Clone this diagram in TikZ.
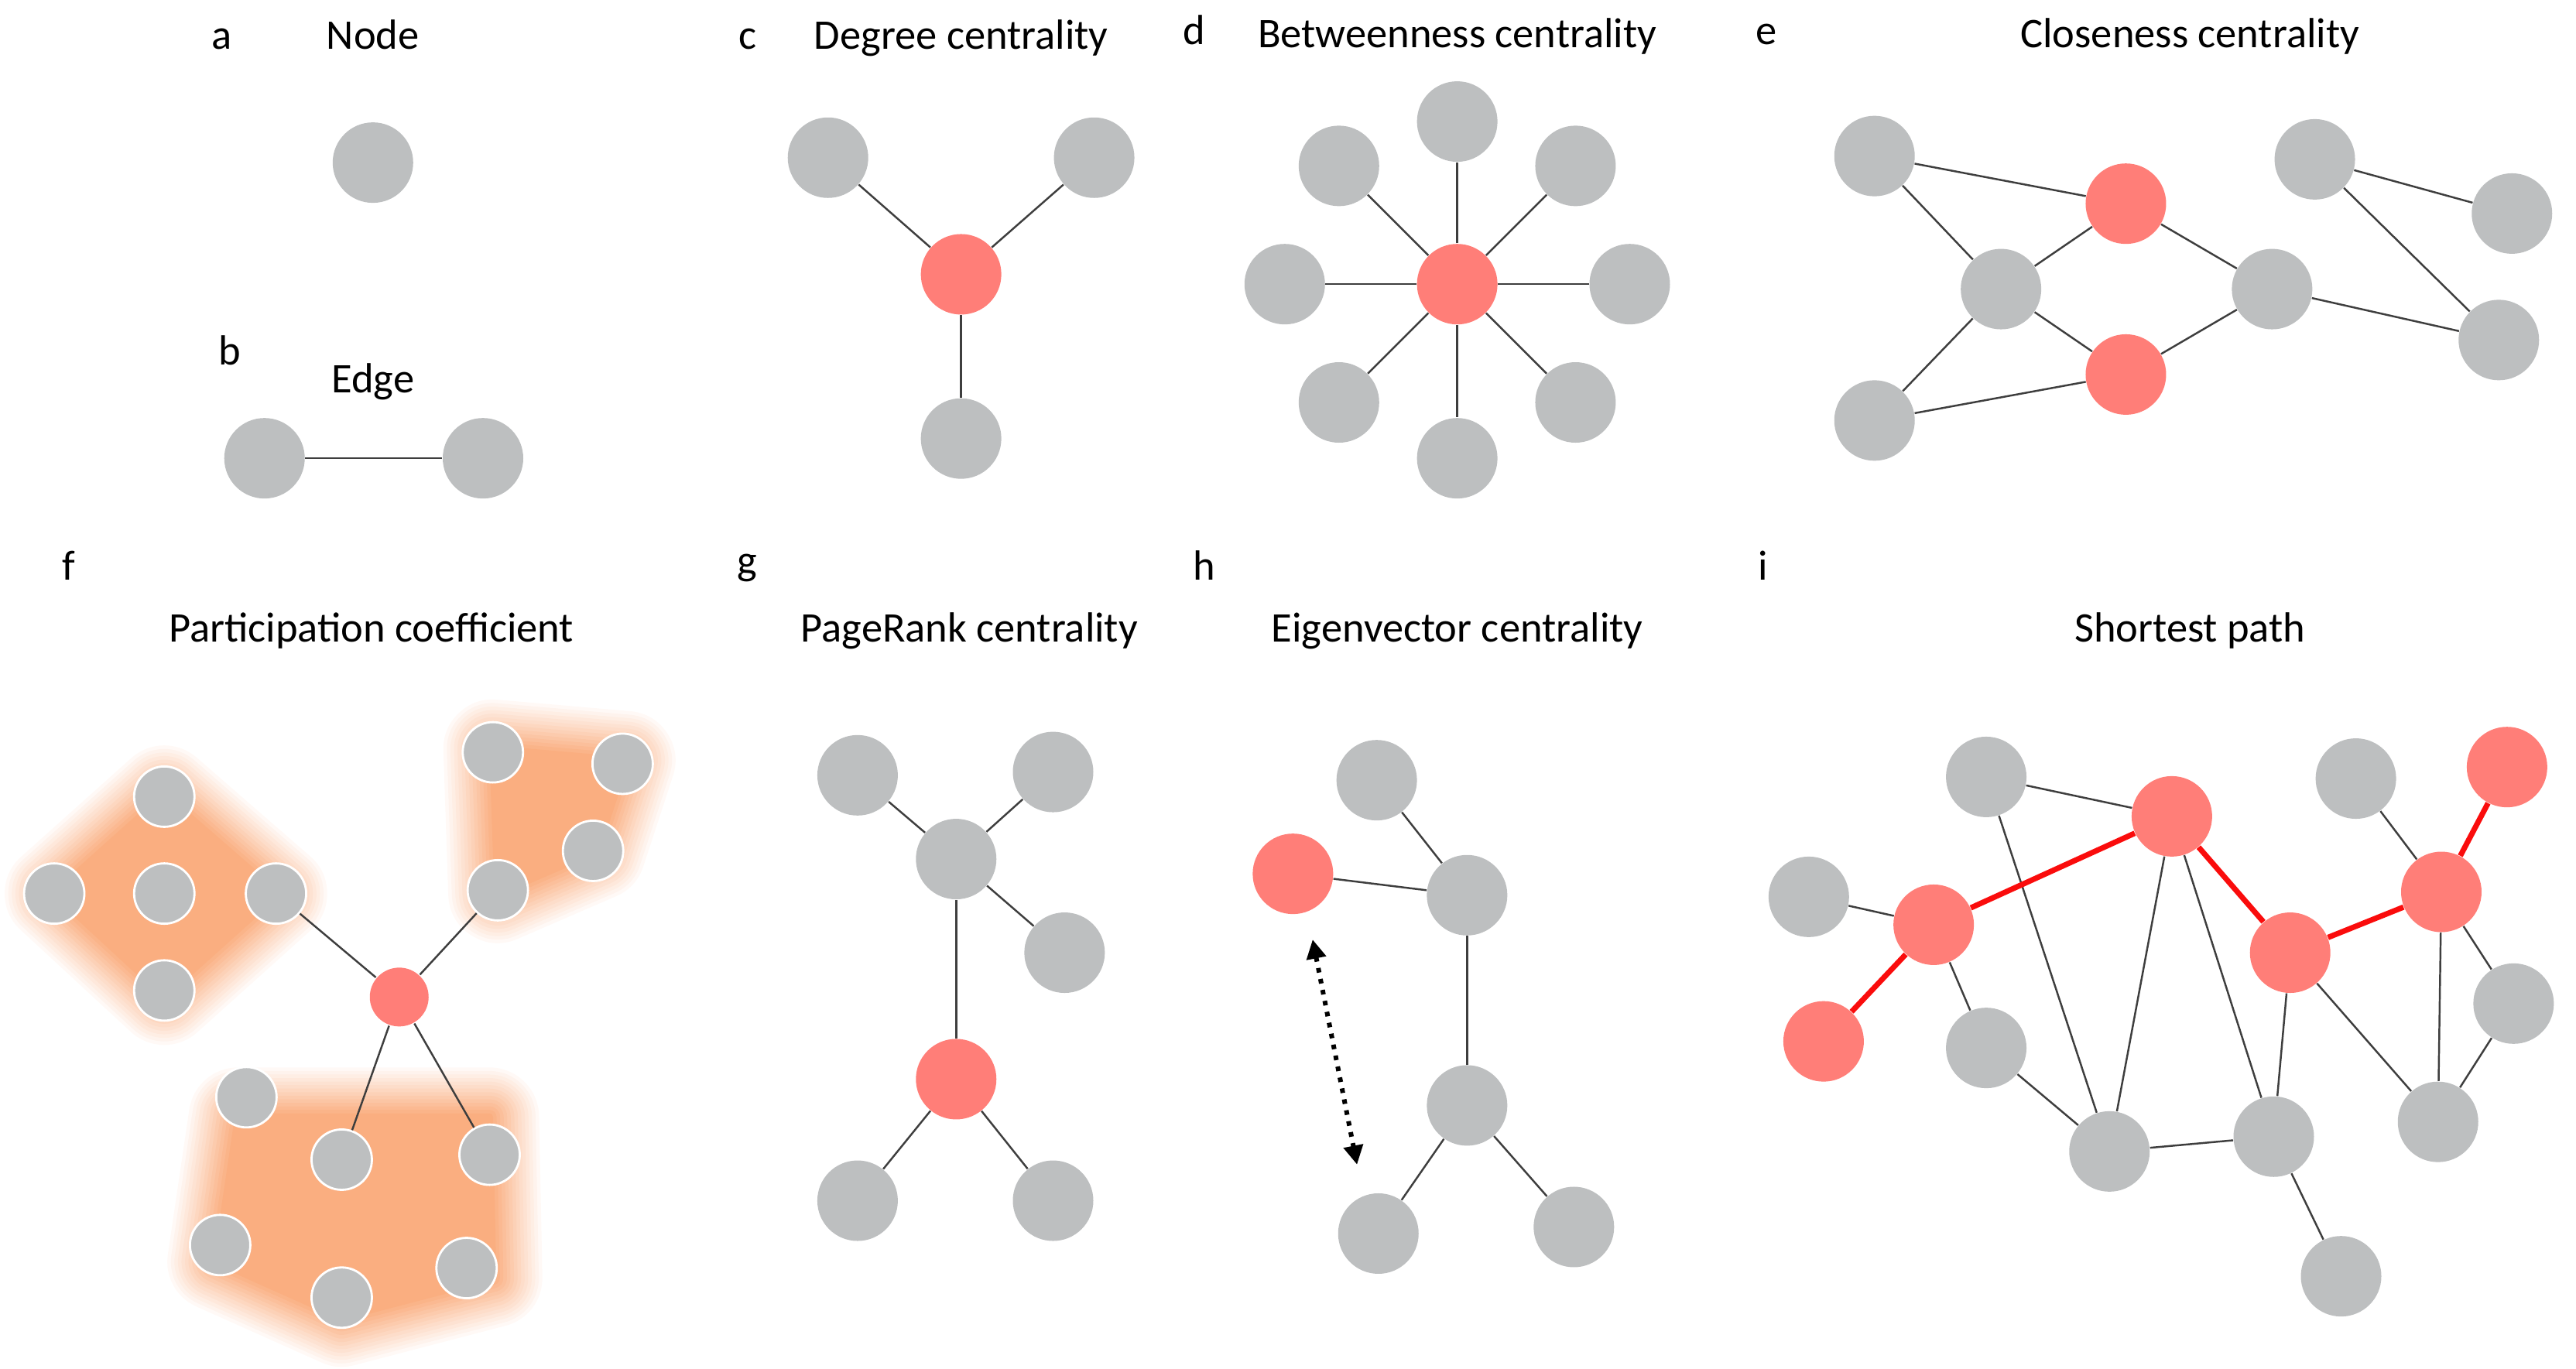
\documentclass[tikz,border=0pt]{standalone}
\usepackage{fontspec}
\setmainfont{Carlito}
\usetikzlibrary{arrows.meta, backgrounds}

\definecolor{nodegray}{RGB}{189,191,192}
\definecolor{nodered}{RGB}{255,126,120}
\definecolor{pathred}{RGB}{250,12,12}
\definecolor{edgegray}{RGB}{62,62,62}
\definecolor{glow}{RGB}{250,174,128}

\begin{document}
\begin{tikzpicture}[
    x=0.21224mm, y=-0.21224mm, >=Latex,
    title/.style={anchor=base, font=\fontsize{15.5}{18}\selectfont},
    gnode/.style={circle, fill=nodegray, minimum size=10.4mm, inner sep=0pt},
    rnode/.style={gnode, fill=nodered},
    snode/.style={circle, fill=nodegray, draw=white, line width=0.8pt, minimum size=7.8mm, inner sep=0pt},
    hub/.style={snode, fill=nodered, draw=none, minimum size=7.6mm},
    link/.style={draw=edgegray, line width=0.7pt},
    hot/.style={draw=pathred, line width=2pt},
    halo/.style={glow, line join=round},
    hint/.style={line width=1.7pt, dash pattern=on 1.7pt off 2.4pt,
        {Triangle[length=7pt,width=7pt]}-{Triangle[length=7pt,width=7pt]}}
]
\useasboundingbox (0,0) rectangle (1568,833);

% labels
\node[title] (aLab) at (135,30) {a};
\node[title] (aTitle) at (227,30) {Node};
\node[title] (bLab) at (140,222) {b};
\node[title] (bTitle) at (227,239) {Edge};
\node[title] (cLab) at (455,30) {c};
\node[title] (cTitle) at (585,30) {Degree centrality};
\node[title] (dLab) at (727,27) {d};
\node[title] (dTitle) at (887,29) {Betweenness centrality};
\node[title] (eLab) at (1075,27) {e};
\node[title] (eTitle) at (1333,29) {Closeness centrality};
\node[title] (fLab) at (42,353) {f};
\node[title] (fTitle) at (226,391) {Participation coefficient};
\node[title] (gLab) at (455,350) {g};
\node[title] (gTitle) at (590,391) {PageRank centrality};
\node[title] (hLab) at (733,353) {h};
\node[title] (hTitle) at (887,391) {Eigenvector centrality};
\node[title] (iLab) at (1073,353) {i};
\node[title] (iTitle) at (1333,391) {Shortest path};

% a, b
\node[gnode] (aNode) at (227,99) {};
\node[gnode] (bLeft) at (161,279) {};
\node[gnode] (bRight) at (294,279) {};
\draw[link] (bLeft) -- (bRight);

% c
\node[rnode] (cHub) at (585,167) {};
\node[gnode] (cLeft) at (504,96) {};
\node[gnode] (cRight) at (666,96) {};
\node[gnode] (cDown) at (585,267) {};
\draw[link] (cHub) -- (cLeft);
\draw[link] (cHub) -- (cRight);
\draw[link] (cHub) -- (cDown);

% d
\node[rnode] (dHub) at (887,173) {};
\node[gnode] (dN) at (887,74) {};
\node[gnode] (dNE) at (959,101) {};
\node[gnode] (dE) at (992,173) {};
\node[gnode] (dSE) at (959,245) {};
\node[gnode] (dS) at (887,279) {};
\node[gnode] (dSW) at (815,245) {};
\node[gnode] (dW) at (782,173) {};
\node[gnode] (dNW) at (815,101) {};
\foreach \n in {dN, dNE, dE, dSE, dS, dSW, dW, dNW}
    \draw[link] (dHub) -- (\n);

% e
\node[gnode] (eA) at (1141,95) {};
\node[rnode] (eB) at (1294,124) {};
\node[gnode] (eC) at (1218,176) {};
\node[rnode] (eD) at (1294,228) {};
\node[gnode] (eE) at (1141,256) {};
\node[gnode] (eF) at (1383,176) {};
\node[gnode] (eG) at (1409,97) {};
\node[gnode] (eH) at (1529,130) {};
\node[gnode] (eI) at (1521,207) {};
\draw[link] (eA) -- (eB);
\draw[link] (eA) -- (eC);
\draw[link] (eC) -- (eB);
\draw[link] (eC) -- (eD);
\draw[link] (eC) -- (eE);
\draw[link] (eE) -- (eD);
\draw[link] (eB) -- (eF);
\draw[link] (eD) -- (eF);
\draw[link] (eG) -- (eH);
\draw[link] (eG) -- (eI);
\draw[link] (eF) -- (eI);

% f
\foreach \k [evaluate=\k as \op using 1/\k, evaluate=\k as \lw using 2.6*\k] in {1,...,14} {
    \draw[halo, line width=\lw pt, opacity=\op] (100,484) -- (33,544) -- (100,606) -- (169,544) -- cycle;
    \draw[halo, line width=\lw pt, opacity=\op] (300,456) -- (381,463) -- (363,518) -- (303,544) -- cycle;
    \draw[halo, line width=\lw pt, opacity=\op] (145,680) -- (298,680) -- (300,778) -- (208,802) -- (132,768) -- cycle;
}
\fill[halo] (100,484) -- (33,544) -- (100,606) -- (169,544) -- cycle;
\fill[halo] (300,456) -- (381,463) -- (363,518) -- (303,544) -- cycle;
\fill[halo] (145,680) -- (298,680) -- (300,778) -- (208,802) -- (132,768) -- cycle;

\node[hub] (fHub) at (243,607) {};
\node[snode] (fTop) at (100,485) {};
\node[snode] (fLeft) at (33,544) {};
\node[snode] (fMid) at (100,544) {};
\node[snode] (fRight) at (168,544) {};
\node[snode] (fBot) at (100,603) {};
\node[snode] (fQ1) at (300,458) {};
\node[snode] (fQ2) at (379,465) {};
\node[snode] (fQ3) at (361,518) {};
\node[snode] (fQ4) at (303,542) {};
\node[snode] (fP1) at (150,668) {};
\node[snode] (fP2) at (208,706) {};
\node[snode] (fP3) at (298,703) {};
\node[snode] (fP4) at (134,758) {};
\node[snode] (fP5) at (208,790) {};
\node[snode] (fP6) at (284,772) {};
\begin{scope}[on background layer]
\draw[link] (fTop) -- (fLeft);
\draw[link] (fTop) -- (fMid);
\draw[link] (fTop) -- (fRight);
\draw[link] (fLeft) -- (fMid);
\draw[link] (fMid) -- (fRight);
\draw[link] (fLeft) -- (fBot);
\draw[link] (fMid) -- (fBot);
\draw[link] (fRight) -- (fBot);
\draw[link] (fQ1) -- (fQ2);
\draw[link] (fQ2) -- (fQ3);
\draw[link] (fQ3) -- (fQ4);
\draw[link] (fQ4) -- (fQ1);
\draw[link] (fP1) -- (fP4);
\draw[link] (fP4) -- (fP2);
\draw[link] (fP4) -- (fP5);
\draw[link] (fP2) -- (fP5);
\draw[link] (fP2) -- (fP3);
\draw[link] (fP3) -- (fP6);
\draw[link] (fP6) -- (fP5);
\end{scope}
\draw[link] (fHub) -- (fRight);
\draw[link] (fHub) -- (fQ4);
\draw[link] (fHub) -- (fP2);
\draw[link] (fHub) -- (fP3);

% g
\node[gnode] (gTL) at (522,472) {};
\node[gnode] (gTR) at (641,470) {};
\node[gnode] (gMid) at (582,523) {};
\node[gnode] (gSide) at (648,580) {};
\node[rnode] (gHub) at (582,657) {};
\node[gnode] (gBL) at (522,731) {};
\node[gnode] (gBR) at (641,731) {};
\draw[link] (gTL) -- (gMid);
\draw[link] (gTR) -- (gMid);
\draw[link] (gMid) -- (gSide);
\draw[link] (gMid) -- (gHub);
\draw[link] (gHub) -- (gBL);
\draw[link] (gHub) -- (gBR);

% h
\node[gnode] (hTop) at (838,475) {};
\node[rnode] (hHub) at (787,532) {};
\node[gnode] (hUp) at (893,545) {};
\node[gnode] (hLow) at (893,673) {};
\node[gnode] (hBL) at (839,751) {};
\node[gnode] (hBR) at (958,747) {};
\draw[link] (hTop) -- (hUp);
\draw[link] (hHub) -- (hUp);
\draw[link] (hUp) -- (hLow);
\draw[link] (hLow) -- (hBL);
\draw[link] (hLow) -- (hBR);
\coordinate (hArrTop) at (799,572);
\coordinate (hArrBot) at (826,709);
\draw[hint] (hArrTop) -- (hArrBot);

% i
\node[gnode] (iG1) at (1209,473) {};
\node[rnode] (iR1) at (1322,497) {};
\node[gnode] (iG2) at (1101,546) {};
\node[rnode] (iR2) at (1177,563) {};
\node[rnode] (iR3) at (1110,634) {};
\node[gnode] (iG3) at (1209,638) {};
\node[gnode] (iG4) at (1284,701) {};
\node[gnode] (iG5) at (1384,692) {};
\node[gnode] (iG6) at (1425,777) {};
\node[rnode] (iR4) at (1394,580) {};
\node[rnode] (iR5) at (1486,543) {};
\node[rnode] (iR6) at (1526,467) {};
\node[gnode] (iG7) at (1434,474) {};
\node[gnode] (iG8) at (1530,611) {};
\node[gnode] (iG9) at (1484,683) {};
\draw[link] (iG2) -- (iR2);
\draw[link] (iR2) -- (iG3);
\draw[link] (iG3) -- (iG4);
\draw[link] (iG1) -- (iR1);
\draw[link] (iG1) -- (iG4);
\draw[link] (iR1) -- (iG4);
\draw[link] (iR1) -- (iG5);
\draw[link] (iR4) -- (iG5);
\draw[link] (iG4) -- (iG5);
\draw[link] (iG5) -- (iG6);
\draw[link] (iR4) -- (iG9);
\draw[link] (iG7) -- (iR5);
\draw[link] (iR5) -- (iG9);
\draw[link] (iR5) -- (iG8);
\draw[link] (iG8) -- (iG9);
\draw[hot] (iR3) -- (iR2);
\draw[hot] (iR2) -- (iR1);
\draw[hot] (iR1) -- (iR4);
\draw[hot] (iR4) -- (iR5);
\draw[hot] (iR5) -- (iR6);
\end{tikzpicture}
\end{document}
